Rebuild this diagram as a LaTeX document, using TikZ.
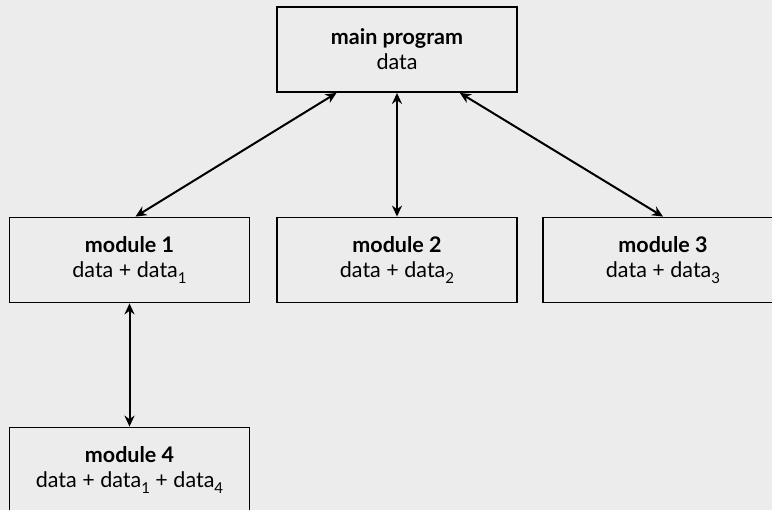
\documentclass[tikz,border=0pt]{standalone}
\usepackage{fontspec}
\setmainfont{Lato}
\usetikzlibrary{calc,arrows.meta}
\definecolor{bg}{HTML}{ECECEC}
\tikzset{
  x=1pt,y=-1pt,
  modbox/.style={draw=black,line width=1.8pt,fill=bg,minimum width=240pt,minimum height=85pt,
    align=center,inner sep=0pt,font=\fontsize{21.5}{25}\selectfont},
  link/.style={line width=2pt,{Stealth[length=11pt,width=10pt]}-{Stealth[length=11pt,width=10pt]}}
}
\newcommand{\hd}[1]{\textbf{#1}}
% index digit set below the baseline
\newcommand{\idx}[1]{\raisebox{-6pt}{\fontsize{15}{15}\selectfont #1}}
\begin{document}
\begin{tikzpicture}
\fill[bg] (0,0) rectangle (772,510);
\useasboundingbox (0,0) rectangle (772,510);
\node[modbox] (main) at (397,49.5) {\hd{main program}\\data};
\node[modbox] (m1) at (129.5,260) {\hd{module 1}\\data + data\idx{1}};
\node[modbox] (m2) at (397,260) {\hd{module 2}\\data + data\idx{2}};
\node[modbox] (m3) at (663,260) {\hd{module 3}\\data + data\idx{3}};
\node[modbox] (m4) at (129.5,470) {\hd{module 4}\\data + data\idx{1} + data\idx{4}};
\draw[link] ($(main.south west)!0.25!(main.south east)$) -- ($(m1.north)+(6,0)$);
\draw[link] (main.south) -- (m2.north);
\draw[link] ($(main.south west)!0.76!(main.south east)$) -- (m3.north);
\draw[link] (m1.south) -- (m4.north);
\end{tikzpicture}
\end{document}
